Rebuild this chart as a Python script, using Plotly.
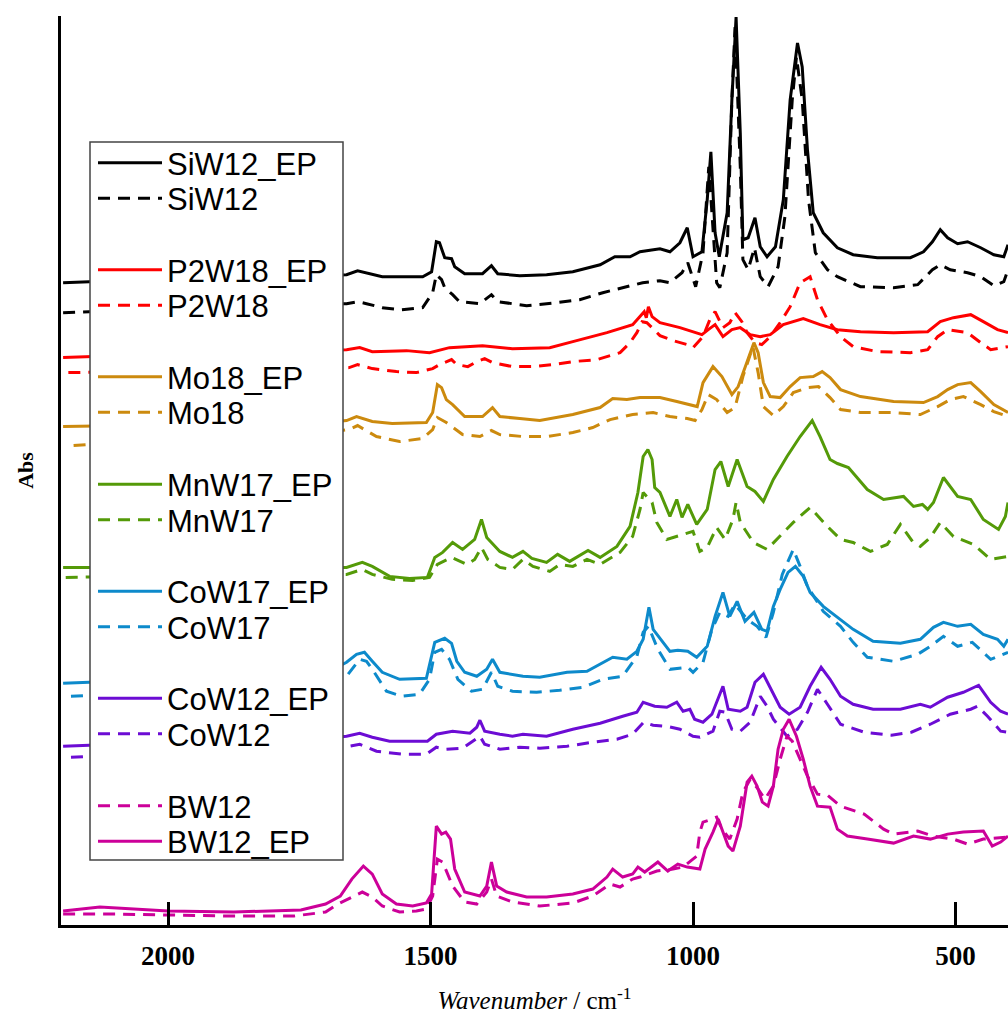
import plotly.graph_objects as go

# ---------------- data (wavenumber in cm-1, absorbance with stacking offset) ----------------
siw12_ep_wn = [2200, 2100, 1950, 1800, 1700, 1660, 1639, 1611, 1592, 1559, 1515, 1498, 1489, 1483, 1473, 1460, 1454, 1435, 1401, 1384, 1372, 1330, 1279, 1229, 1177, 1149, 1120, 1101, 1063, 1044, 1025, 1011, 1000, 983, 973, 966, 958, 950, 935, 926, 918, 910, 905, 895, 882, 872, 859, 843, 828, 815, 801, 792, 782, 771, 752, 725, 695, 649, 586, 561, 544, 529, 515, 496, 477, 452, 427, 408, 400]
siw12_ep_abs = [6.33, 6.35, 6.37, 6.39, 6.40, 6.41, 6.45, 6.41, 6.39, 6.39, 6.39, 6.44, 6.74, 6.73, 6.58, 6.57, 6.49, 6.42, 6.42, 6.50, 6.42, 6.40, 6.41, 6.44, 6.51, 6.59, 6.59, 6.64, 6.67, 6.64, 6.73, 6.88, 6.59, 6.64, 7.16, 7.64, 6.83, 6.59, 7.03, 8.16, 8.99, 7.83, 6.76, 6.78, 6.98, 6.69, 6.59, 6.69, 7.16, 8.16, 8.73, 8.49, 7.66, 7.03, 6.83, 6.68, 6.61, 6.58, 6.58, 6.64, 6.74, 6.86, 6.78, 6.72, 6.74, 6.68, 6.61, 6.59, 6.71]

siw12_wn = [2200, 2100, 1950, 1800, 1700, 1660, 1639, 1622, 1592, 1555, 1515, 1496, 1489, 1479, 1473, 1458, 1445, 1406, 1384, 1372, 1317, 1260, 1216, 1172, 1134, 1096, 1063, 1044, 1021, 1010, 995, 981, 970, 955, 949, 935, 926, 920, 910, 905, 895, 883, 872, 857, 838, 825, 811, 803, 792, 780, 767, 744, 725, 681, 618, 572, 544, 529, 510, 477, 452, 427, 408, 400]
siw12_abs = [6.03, 6.05, 6.07, 6.09, 6.11, 6.12, 6.14, 6.12, 6.08, 6.06, 6.08, 6.23, 6.41, 6.36, 6.28, 6.21, 6.14, 6.12, 6.21, 6.14, 6.10, 6.13, 6.16, 6.23, 6.28, 6.33, 6.35, 6.33, 6.43, 6.53, 6.29, 6.63, 7.49, 6.33, 6.28, 6.63, 8.16, 8.89, 7.49, 6.56, 6.46, 6.68, 6.39, 6.29, 6.49, 6.99, 8.16, 8.59, 8.16, 7.16, 6.63, 6.46, 6.39, 6.29, 6.28, 6.31, 6.46, 6.51, 6.46, 6.43, 6.39, 6.30, 6.34, 6.46]

p2w18_ep_wn = [2200, 2100, 1950, 1800, 1700, 1660, 1635, 1611, 1546, 1502, 1464, 1401, 1344, 1273, 1229, 1164, 1115, 1097, 1093, 1089, 1085, 1078, 1063, 1025, 1000, 983, 971, 958, 943, 926, 910, 891, 872, 853, 828, 790, 758, 725, 681, 618, 553, 529, 504, 471, 447, 420, 400]
p2w18_ep_abs = [5.58, 5.60, 5.62, 5.64, 5.65, 5.66, 5.68, 5.64, 5.65, 5.63, 5.68, 5.70, 5.67, 5.68, 5.74, 5.83, 5.91, 6.01, 6.04, 5.98, 6.09, 5.99, 5.93, 5.88, 5.84, 5.81, 5.86, 5.91, 5.79, 5.86, 5.88, 5.81, 5.79, 5.81, 5.91, 5.97, 5.91, 5.86, 5.84, 5.83, 5.84, 5.94, 5.98, 6.01, 5.94, 5.86, 5.83]

p2w18_wn = [2190, 2100, 1950, 1800, 1700, 1655, 1639, 1611, 1565, 1527, 1496, 1483, 1460, 1450, 1429, 1412, 1397, 1382, 1344, 1305, 1267, 1229, 1183, 1139, 1120, 1107, 1097, 1088, 1078, 1063, 1038, 1011, 1000, 981, 968, 958, 943, 930, 920, 907, 897, 882, 869, 853, 834, 815, 796, 777, 763, 744, 719, 695, 649, 586, 553, 534, 515, 477, 452, 433, 400]
p2w18_abs = [5.43, 5.44, 5.45, 5.46, 5.47, 5.48, 5.51, 5.47, 5.44, 5.43, 5.47, 5.51, 5.56, 5.51, 5.49, 5.54, 5.57, 5.53, 5.49, 5.49, 5.51, 5.54, 5.56, 5.63, 5.73, 5.83, 5.94, 5.93, 5.88, 5.80, 5.75, 5.71, 5.68, 5.79, 5.96, 6.04, 5.88, 5.93, 6.03, 5.94, 5.83, 5.73, 5.71, 5.79, 5.93, 6.09, 6.33, 6.39, 6.16, 5.96, 5.79, 5.69, 5.64, 5.63, 5.66, 5.79, 5.86, 5.83, 5.73, 5.66, 5.69]

mo18_ep_wn = [2200, 2100, 1950, 1800, 1700, 1660, 1641, 1611, 1573, 1508, 1496, 1487, 1479, 1470, 1458, 1435, 1401, 1382, 1368, 1330, 1292, 1229, 1177, 1153, 1126, 1101, 1063, 1031, 992, 981, 962, 945, 926, 914, 895, 884, 876, 866, 853, 834, 815, 796, 771, 754, 739, 719, 681, 618, 561, 534, 515, 496, 471, 452, 427, 400]
mo18_ep_abs = [4.89, 4.90, 4.91, 4.92, 4.93, 4.95, 4.99, 4.94, 4.92, 4.93, 5.03, 5.31, 5.28, 5.16, 5.11, 4.99, 4.99, 5.08, 4.99, 4.97, 4.95, 5.01, 5.08, 5.17, 5.16, 5.18, 5.18, 5.14, 5.09, 5.33, 5.49, 5.39, 5.21, 5.29, 5.56, 5.73, 5.63, 5.33, 5.19, 5.18, 5.29, 5.38, 5.39, 5.44, 5.38, 5.26, 5.19, 5.14, 5.13, 5.19, 5.26, 5.31, 5.33, 5.24, 5.11, 5.03]

mo18_wn = [2180, 2100, 1950, 1800, 1700, 1655, 1639, 1603, 1559, 1515, 1496, 1487, 1470, 1439, 1406, 1384, 1368, 1324, 1279, 1229, 1191, 1158, 1115, 1076, 1044, 1011, 996, 983, 971, 955, 935, 920, 905, 886, 876, 866, 847, 828, 809, 782, 761, 739, 719, 681, 618, 567, 534, 510, 485, 452, 427, 400]
mo18_abs = [4.70, 4.73, 4.76, 4.79, 4.83, 4.86, 4.90, 4.79, 4.74, 4.77, 4.86, 4.98, 4.93, 4.81, 4.79, 4.85, 4.81, 4.79, 4.79, 4.83, 4.88, 4.96, 5.01, 5.03, 4.99, 4.97, 4.95, 5.06, 5.21, 5.16, 5.03, 5.08, 5.39, 5.69, 5.43, 5.09, 5.00, 5.09, 5.23, 5.28, 5.29, 5.18, 5.06, 5.03, 5.03, 5.01, 5.09, 5.16, 5.19, 5.11, 5.04, 4.99]

mnw17_ep_wn = [2200, 2100, 1950, 1800, 1700, 1660, 1630, 1611, 1578, 1540, 1506, 1492, 1477, 1458, 1439, 1416, 1403, 1393, 1368, 1344, 1324, 1307, 1279, 1258, 1235, 1200, 1177, 1145, 1120, 1105, 1095, 1086, 1078, 1073, 1063, 1044, 1031, 1021, 1010, 993, 973, 958, 947, 933, 916, 897, 882, 866, 847, 821, 796, 773, 758, 739, 725, 704, 668, 637, 599, 580, 563, 553, 542, 523, 496, 471, 447, 418, 405, 400]
mnw17_ep_abs = [3.48, 3.48, 3.48, 3.48, 3.48, 3.48, 3.53, 3.49, 3.39, 3.37, 3.38, 3.58, 3.63, 3.73, 3.66, 3.76, 3.96, 3.78, 3.64, 3.58, 3.64, 3.57, 3.53, 3.61, 3.54, 3.65, 3.58, 3.69, 3.89, 4.23, 4.59, 4.66, 4.56, 4.28, 4.23, 3.99, 4.16, 3.98, 4.11, 3.91, 4.06, 4.46, 4.54, 4.29, 4.56, 4.29, 4.24, 4.14, 4.36, 4.59, 4.79, 4.95, 4.79, 4.56, 4.52, 4.48, 4.26, 4.16, 4.19, 4.09, 4.11, 4.06, 4.13, 4.38, 4.19, 4.16, 3.96, 3.86, 3.99, 4.13]

mnw17_wn = [2195, 2100, 1950, 1800, 1700, 1660, 1630, 1611, 1573, 1534, 1502, 1487, 1460, 1431, 1416, 1403, 1391, 1368, 1344, 1324, 1305, 1273, 1254, 1229, 1202, 1177, 1139, 1115, 1101, 1095, 1078, 1069, 1050, 1019, 1000, 987, 973, 955, 939, 924, 918, 910, 885, 859, 840, 809, 777, 744, 719, 695, 662, 630, 605, 582, 567, 548, 529, 504, 466, 433, 400]
mnw17_abs = [3.38, 3.39, 3.40, 3.40, 3.41, 3.41, 3.46, 3.41, 3.36, 3.35, 3.38, 3.51, 3.58, 3.51, 3.56, 3.68, 3.56, 3.48, 3.46, 3.56, 3.49, 3.44, 3.51, 3.49, 3.56, 3.51, 3.63, 3.79, 4.06, 4.23, 4.13, 3.93, 3.76, 3.81, 3.84, 3.64, 3.68, 3.88, 3.76, 3.96, 4.13, 3.93, 3.73, 3.66, 3.76, 3.93, 4.08, 3.89, 3.76, 3.73, 3.64, 3.71, 3.91, 3.74, 3.69, 3.78, 3.93, 3.79, 3.71, 3.56, 3.59]

cow17_ep_wn = [2200, 2100, 1950, 1800, 1700, 1660, 1641, 1626, 1611, 1592, 1559, 1508, 1492, 1483, 1473, 1460, 1450, 1435, 1412, 1393, 1382, 1368, 1324, 1292, 1240, 1202, 1172, 1153, 1126, 1107, 1095, 1084, 1076, 1057, 1044, 1029, 1010, 993, 973, 958, 943, 930, 916, 901, 884, 869, 859, 847, 834, 819, 805, 790, 777, 752, 719, 695, 657, 605, 567, 542, 523, 496, 471, 447, 420, 408, 400]
cow17_ep_abs = [2.32, 2.34, 2.36, 2.38, 2.42, 2.53, 2.61, 2.63, 2.54, 2.43, 2.36, 2.37, 2.73, 2.75, 2.77, 2.72, 2.54, 2.43, 2.39, 2.46, 2.56, 2.43, 2.39, 2.38, 2.43, 2.44, 2.53, 2.58, 2.56, 2.64, 2.76, 3.08, 2.86, 2.73, 2.64, 2.65, 2.64, 2.58, 2.69, 2.99, 3.23, 2.99, 3.14, 2.94, 3.03, 2.86, 2.84, 3.09, 3.26, 3.43, 3.49, 3.39, 3.23, 3.09, 2.96, 2.86, 2.74, 2.72, 2.76, 2.88, 2.93, 2.89, 2.91, 2.81, 2.76, 2.69, 2.76]

cow17_wn = [2185, 2100, 1950, 1800, 1700, 1660, 1635, 1622, 1611, 1584, 1555, 1521, 1502, 1492, 1479, 1464, 1448, 1422, 1401, 1384, 1372, 1344, 1298, 1254, 1210, 1172, 1134, 1107, 1095, 1085, 1067, 1044, 1010, 1000, 981, 964, 949, 933, 920, 897, 878, 861, 847, 830, 809, 796, 782, 752, 719, 695, 668, 618, 572, 548, 523, 496, 468, 433, 400]
cow17_abs = [2.19, 2.21, 2.24, 2.27, 2.31, 2.39, 2.56, 2.54, 2.46, 2.24, 2.19, 2.21, 2.36, 2.63, 2.66, 2.56, 2.36, 2.24, 2.26, 2.43, 2.29, 2.24, 2.23, 2.25, 2.28, 2.36, 2.39, 2.59, 2.83, 2.89, 2.66, 2.46, 2.48, 2.43, 2.53, 2.86, 3.03, 2.99, 3.11, 2.96, 2.89, 2.78, 3.03, 3.41, 3.66, 3.49, 3.29, 3.04, 2.89, 2.73, 2.58, 2.54, 2.61, 2.69, 2.79, 2.69, 2.73, 2.56, 2.63]

cow12_ep_wn = [2200, 2100, 1950, 1800, 1700, 1660, 1635, 1611, 1578, 1546, 1506, 1489, 1458, 1425, 1412, 1406, 1397, 1368, 1344, 1324, 1279, 1229, 1177, 1134, 1107, 1095, 1073, 1050, 1031, 1019, 1006, 997, 981, 964, 955, 943, 933, 910, 897, 882, 866, 849, 834, 817, 796, 777, 756, 739, 719, 695, 657, 605, 567, 548, 515, 485, 456, 433, 414, 400]
cow12_ep_abs = [1.69, 1.71, 1.73, 1.75, 1.77, 1.79, 1.82, 1.78, 1.74, 1.74, 1.74, 1.81, 1.84, 1.82, 1.88, 1.95, 1.84, 1.81, 1.79, 1.81, 1.79, 1.86, 1.92, 1.99, 2.03, 2.13, 2.09, 2.08, 2.13, 2.04, 2.06, 1.96, 1.93, 2.01, 2.13, 2.29, 2.06, 2.04, 2.08, 2.33, 2.41, 2.23, 2.08, 2.01, 2.08, 2.29, 2.48, 2.36, 2.19, 2.11, 2.06, 2.06, 2.11, 2.08, 2.18, 2.23, 2.30, 2.13, 2.04, 2.01]

cow12_wn = [2185, 2100, 1950, 1800, 1700, 1655, 1635, 1603, 1555, 1508, 1489, 1470, 1439, 1406, 1397, 1368, 1330, 1292, 1240, 1191, 1145, 1115, 1094, 1076, 1050, 1025, 1000, 987, 962, 949, 939, 926, 910, 891, 872, 859, 847, 821, 801, 782, 763, 744, 719, 674, 622, 584, 548, 510, 471, 458, 439, 414, 400]
cow12_abs = [1.58, 1.60, 1.62, 1.64, 1.66, 1.69, 1.71, 1.64, 1.61, 1.61, 1.68, 1.66, 1.67, 1.79, 1.71, 1.66, 1.68, 1.67, 1.69, 1.73, 1.76, 1.81, 1.93, 1.90, 1.89, 1.86, 1.79, 1.78, 1.84, 2.04, 2.03, 1.86, 1.84, 1.93, 2.19, 2.09, 1.96, 1.79, 1.86, 2.03, 2.26, 2.11, 1.91, 1.83, 1.80, 1.83, 1.91, 2.01, 2.06, 2.09, 1.99, 1.84, 1.83]

bw12_ep_wn = [2200, 2130, 2000, 1875, 1747, 1700, 1672, 1650, 1628, 1611, 1592, 1565, 1534, 1508, 1498, 1489, 1479, 1471, 1462, 1454, 1435, 1406, 1393, 1384, 1374, 1355, 1317, 1279, 1229, 1191, 1164, 1153, 1134, 1115, 1105, 1092, 1067, 1048, 1029, 1011, 987, 977, 962, 952, 943, 933, 924, 910, 897, 888, 878, 868, 857, 847, 838, 828, 817, 803, 790, 777, 763, 739, 725, 706, 668, 618, 580, 548, 515, 485, 447, 430, 414, 400]
bw12_ep_abs = [0.04, 0.08, 0.04, 0.03, 0.05, 0.11, 0.19, 0.36, 0.49, 0.41, 0.21, 0.11, 0.09, 0.12, 0.21, 0.89, 0.81, 0.83, 0.76, 0.46, 0.23, 0.19, 0.29, 0.53, 0.29, 0.23, 0.18, 0.18, 0.21, 0.26, 0.38, 0.46, 0.38, 0.41, 0.48, 0.43, 0.53, 0.44, 0.51, 0.48, 0.46, 0.66, 0.83, 0.96, 0.83, 0.69, 0.64, 0.89, 1.33, 1.39, 1.29, 1.13, 1.09, 1.29, 1.66, 1.86, 1.96, 1.79, 1.56, 1.29, 1.09, 1.08, 0.86, 0.79, 0.76, 0.72, 0.79, 0.76, 0.81, 0.83, 0.84, 0.69, 0.73, 0.79]

bw12_wn = [2200, 2100, 2000, 1880, 1760, 1700, 1680, 1660, 1630, 1611, 1592, 1559, 1527, 1508, 1496, 1487, 1477, 1458, 1435, 1412, 1393, 1384, 1374, 1344, 1292, 1229, 1191, 1158, 1139, 1115, 1101, 1069, 1038, 1019, 993, 987, 981, 964, 955, 945, 930, 916, 905, 891, 876, 863, 847, 834, 821, 811, 799, 782, 763, 744, 719, 674, 637, 618, 572, 542, 504, 477, 447, 400]
bw12_abs = [0.01, 0.01, 0.00, -0.01, -0.01, 0.03, 0.10, 0.15, 0.23, 0.18, 0.09, 0.03, 0.04, 0.06, 0.19, 0.56, 0.53, 0.29, 0.13, 0.11, 0.23, 0.36, 0.19, 0.13, 0.09, 0.12, 0.19, 0.31, 0.28, 0.36, 0.38, 0.44, 0.46, 0.48, 0.59, 0.83, 0.93, 0.96, 0.98, 0.86, 0.76, 0.96, 1.23, 1.36, 1.26, 1.16, 1.29, 1.56, 1.79, 1.74, 1.59, 1.39, 1.21, 1.20, 1.09, 1.01, 0.86, 0.81, 0.84, 0.79, 0.76, 0.71, 0.76, 0.78]

names = ["SiW12_EP", "SiW12", "P2W18_EP", "P2W18", "Mo18_EP", "Mo18",
         "MnW17_EP", "MnW17", "CoW17_EP", "CoW17", "CoW12_EP", "CoW12",
         "BW12", "BW12_EP"]
xs = [siw12_ep_wn, siw12_wn, p2w18_ep_wn, p2w18_wn, mo18_ep_wn, mo18_wn,
      mnw17_ep_wn, mnw17_wn, cow17_ep_wn, cow17_wn, cow12_ep_wn, cow12_wn,
      bw12_wn, bw12_ep_wn]
ys = [siw12_ep_abs, siw12_abs, p2w18_ep_abs, p2w18_abs, mo18_ep_abs, mo18_abs,
      mnw17_ep_abs, mnw17_abs, cow17_ep_abs, cow17_abs, cow12_ep_abs, cow12_abs,
      bw12_abs, bw12_ep_abs]
colors = ["#000000", "#000000", "#FF0000", "#FF0000", "#CC8A0E", "#CC8A0E",
          "#549A08", "#549A08", "#0D8ACB", "#0D8ACB", "#6C0CD4", "#6C0CD4",
          "#CC0099", "#CC0099"]
solid = [True, False, True, False, True, False, True, False, True, False, True, False, False, True]
tick_vals = [2000, 1500, 1000, 500]

# ---------------- layout geometry ----------------
W, H = 1008, 1015
ML, MR, MT, MB = 61, 0, 16, 90
PW, PH = W - ML - MR, H - MT - MB


def xp(px):
    return (px - ML) / PW


def yp(py):
    return (H - MB - py) / PH


legend_rows = [163, 198.5, 270, 305.5, 377, 412.5, 484.5, 520,
               591.5, 627, 698.5, 734, 806, 841.5]

SERIF = "Liberation Serif, Times New Roman, serif"

fig = go.Figure()
layout_legends = {}
for i, (nm, x, y, c, s) in enumerate(zip(names, xs, ys, colors, solid)):
    key = "legend" if i == 0 else f"legend{i + 1}"
    fig.add_trace(go.Scatter(
        x=x, y=y, mode="lines", name=nm, legend=key,
        line=dict(color=c, width=3, dash="solid" if s else "12px,8px"),
        hoverinfo="skip"))
    layout_legends[key] = dict(
        x=xp(93), y=yp(legend_rows[i]), xanchor="left", yanchor="middle",
        bgcolor="rgba(0,0,0,0)", borderwidth=0, itemwidth=64,
        tracegroupgap=0,
        font=dict(family="Liberation Sans, Arial, sans-serif", size=31, color="#000000"))

fig.update_layout(
    width=W, height=H,
    margin=dict(l=ML, r=MR, t=MT, b=MB, autoexpand=False),
    paper_bgcolor="white", plot_bgcolor="white",
    showlegend=True,
    **layout_legends,
    shapes=[dict(type="rect", xref="paper", yref="paper",
                 x0=xp(90), x1=xp(343), y0=yp(860), y1=yp(142),
                 fillcolor="white", line=dict(color="#444444", width=1.5),
                 layer="above")],
    xaxis=dict(range=[2204, 400], showgrid=False, zeroline=False,
               showline=True, linecolor="black", linewidth=3,
               ticks="inside", ticklen=23, tickwidth=3, tickcolor="black",
               tickvals=tick_vals, ticktext=[str(v) for v in tick_vals],
               ticklabelstandoff=5,
               tickfont=dict(family=SERIF, size=27, color="black", weight="bold"),
               title=dict(text="<i>Wavenumber</i> / cm<sup>-1</sup>",
                          font=dict(family=SERIF, size=25, color="black"),
                          standoff=22)),
    yaxis=dict(range=[-0.10, 9.0], showgrid=False, zeroline=False,
               showline=True, linecolor="black", linewidth=3,
               ticks="", showticklabels=False,
               title=dict(text="<b>Abs</b>",
                          font=dict(family=SERIF, size=22, color="black"),
                          standoff=19)),
)

fig.write_html("out.html")
